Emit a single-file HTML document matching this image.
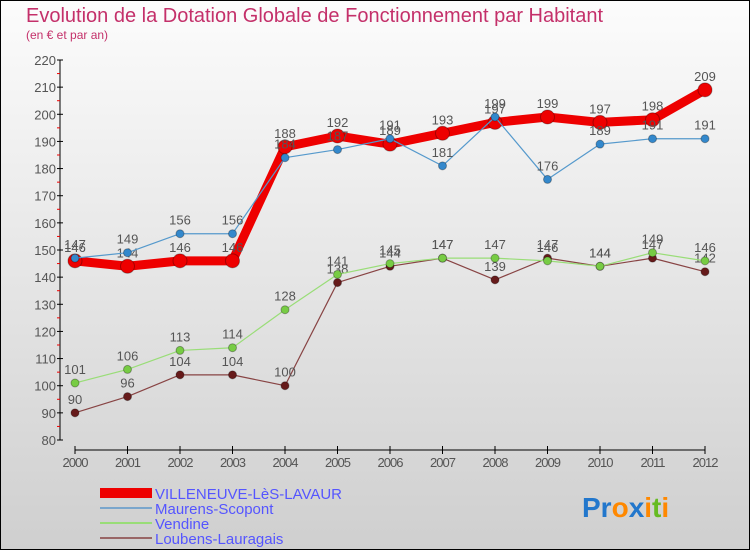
<!DOCTYPE html>
<html><head><meta charset="utf-8"><style>
body{margin:0}
svg{display:block;font-family:"Liberation Sans",sans-serif}
</style></head><body>
<svg id="c" width="750" height="550" viewBox="0 0 750 550" xmlns="http://www.w3.org/2000/svg">
<defs><linearGradient id="bg" x1="0" y1="0" x2="0" y2="1"><stop offset="0" stop-color="#fcfcfc"/><stop offset="1" stop-color="#cfcfcf"/></linearGradient></defs>
<rect x="0.5" y="0.5" width="749" height="549" fill="url(#bg)" stroke="#000"/>
<text x="26" y="22" font-size="20" fill="#c4306a">Evolution de la Dotation Globale de Fonctionnement par Habitant</text>
<text x="26" y="39" font-size="12" fill="#c4306a">(en € et par an)</text>
<g id="axes"></g>
<g id="series"></g>
<g>
<rect x="100" y="488" width="52" height="10" fill="#e00"/>
<text x="155" y="499" font-size="15" fill="#5555ff">VILLENEUVE-LèS-LAVAUR</text>
<rect x="100" y="507" width="52" height="2" fill="#7aa6cc"/>
<text x="155" y="514" font-size="15" fill="#5555ff">Maurens-Scopont</text>
<rect x="100" y="522" width="52" height="2" fill="#99dd77"/>
<text x="155" y="529" font-size="15" fill="#5555ff">Vendine</text>
<rect x="100" y="537" width="52" height="2" fill="#996666"/>
<text x="155" y="544" font-size="15" fill="#5555ff">Loubens-Lauragais</text>
</g>
<g font-size="28" font-weight="bold">
<text x="582" y="517"><tspan fill="#2277cc">Pr</tspan><tspan fill="#ff8800">o</tspan><tspan fill="#2277cc">x</tspan><tspan fill="#ff8800">i</tspan><tspan fill="#66bb22">t</tspan><tspan fill="#ff8800">i</tspan></text>
</g>
</svg>
<script>
const years=[2000,2001,2002,2003,2004,2005,2006,2007,2008,2009,2010,2011,2012];
const villeneuve=[146,144,146,146,188,192,189,193,197,199,197,198,209];
const maurens=[147,149,156,156,184,187,191,181,199,176,189,191,191];
const vendine=[101,106,113,114,128,141,145,147,147,146,144,149,146];
const loubens=[90,96,104,104,100,138,144,147,139,147,144,147,142];
const yTicks=[80,90,100,110,120,130,140,150,160,170,180,190,200,210,220];
const NS="http://www.w3.org/2000/svg";
const X=i=>75+i*(630/(years.length-1));
const Y=v=>440-(v-80)*(380/140);
function mk(t,a,p){const e=document.createElementNS(NS,t);for(const k in a)e.setAttribute(k,a[k]);p.appendChild(e);return e;}
const ax=document.getElementById('axes');
let l=mk('line',{x1:60,y1:60,x2:60,y2:440,stroke:'#000'},ax);


yTicks.forEach(v=>{
 const t=mk('line',{x1:57,y1:Y(v),x2:63,y2:Y(v),stroke:'#000'},ax);
 
 
 if(v<220){const m=mk('line',{x1:57,y1:Y(v+5),x2:60,y2:Y(v+5),stroke:'#e00'},ax);
 
 }
 const tx=mk('text',{x:56,y:Y(v)+5,'font-size':13,fill:'#555','text-anchor':'end'},ax);
 tx.textContent=v;
 
 
});
l=mk('line',{x1:75,y1:450,x2:705,y2:450,stroke:'#000'},ax);


years.forEach((y,i)=>{
 const t=mk('line',{x1:X(i),y1:446,x2:X(i),y2:454,stroke:'#000'},ax);
 
 
 const tx=mk('text',{x:X(i),y:467,'font-size':13,fill:'#555','text-anchor':'middle','letter-spacing':'-1'},ax);
 tx.textContent=y;
 
 
});
const sg=document.getElementById('series');
function series(name,data,color,w,r,dot){
 const g=mk('g',{},sg);
 
 
 const pl=mk('polyline',{points:data.map((v,i)=>X(i)+','+Y(v)).join(' '),fill:'none',stroke:color,'stroke-width':w,'stroke-linejoin':'round'},g);
 
 
 data.forEach((v,i)=>{
  const c=mk('circle',{cx:X(i),cy:Y(v),r:r,fill:dot,stroke:'rgba(0,0,0,0.3)','stroke-width':1},g);
  
  
  const t=mk('text',{x:X(i),y:Y(v)-9,'font-size':13,fill:'#555','text-anchor':'middle'},g);
  t.textContent=v;
  
  
 });
}
series('loubens',loubens,'#884444',1.2,4,'#661a1a');
series('vendine',vendine,'#99dd77',1.2,4,'#77cc44');
series('villeneuve',villeneuve,'#ee0000',9,7,'#ee0000');
series('maurens',maurens,'#5599cc',1.2,4,'#3388cc');
</script>
</body></html>
